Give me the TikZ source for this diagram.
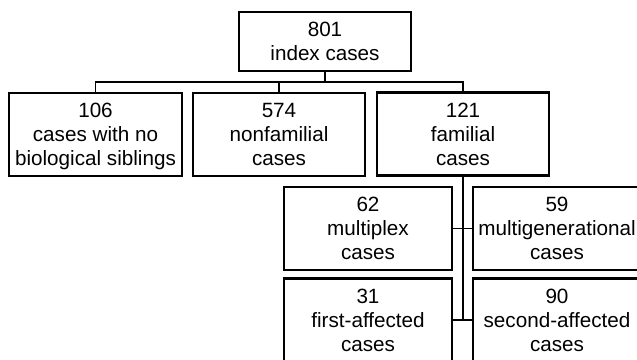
\documentclass[tikz,border=0pt]{standalone}
\usepackage{fontspec}
\setmainfont{Liberation Sans}
\begin{document}
\begin{tikzpicture}[x=0.75pt,y=-0.75pt,
  box/.style={draw=black, line width=1.6pt, rectangle, inner sep=0pt, align=center,
    font=\fontsize{15.5}{18}\selectfont, text depth=0pt},
  bigbox/.style={box, minimum width=172*0.75pt, minimum height=83*0.75pt},
  subbox/.style={box, minimum width=168*0.75pt, minimum height=83*0.75pt},
  conn/.style={draw=black, line width=1.3pt}]
\useasboundingbox (0,0) rectangle (637,360);
\clip (0,0) rectangle (637,360);
\node[box, minimum width=172*0.75pt, minimum height=59*0.75pt] (top) at (325,41.5) {801\\index cases};
\node[bigbox, minimum width=173*0.75pt] (b1) at (95.5,134.5) {106\\cases with no\\biological siblings};
\node[bigbox] (b2) at (279,134.5) {574\\nonfamilial\\cases};
\node[bigbox] (b3) at (463,134) {121\\familial\\cases};
\node[subbox] (mplex) at (368,228.5) {62\\multiplex\\cases};
\node[subbox] (mgen) at (557,228.5) {59\\multigenerational\\cases};
\node[subbox] (first) at (368,320) {31\\first-affected\\cases};
\node[subbox] (second) at (557,320) {90\\second-affected\\cases};
\coordinate (bus) at (0,82);
\draw[conn] (top.south) -- (top.south |- bus);
\draw[conn] (b1.north) -- (b1.north |- bus) -| (b3.north);
\draw[conn] (b2.north) -- (b2.north |- bus);
\draw[conn] (b3.south) -- (b3.south |- second.west);
\draw[conn] (mplex.east) -- (mgen.west);
\draw[conn] (first.east) -- (second.west);
\end{tikzpicture}
\end{document}
